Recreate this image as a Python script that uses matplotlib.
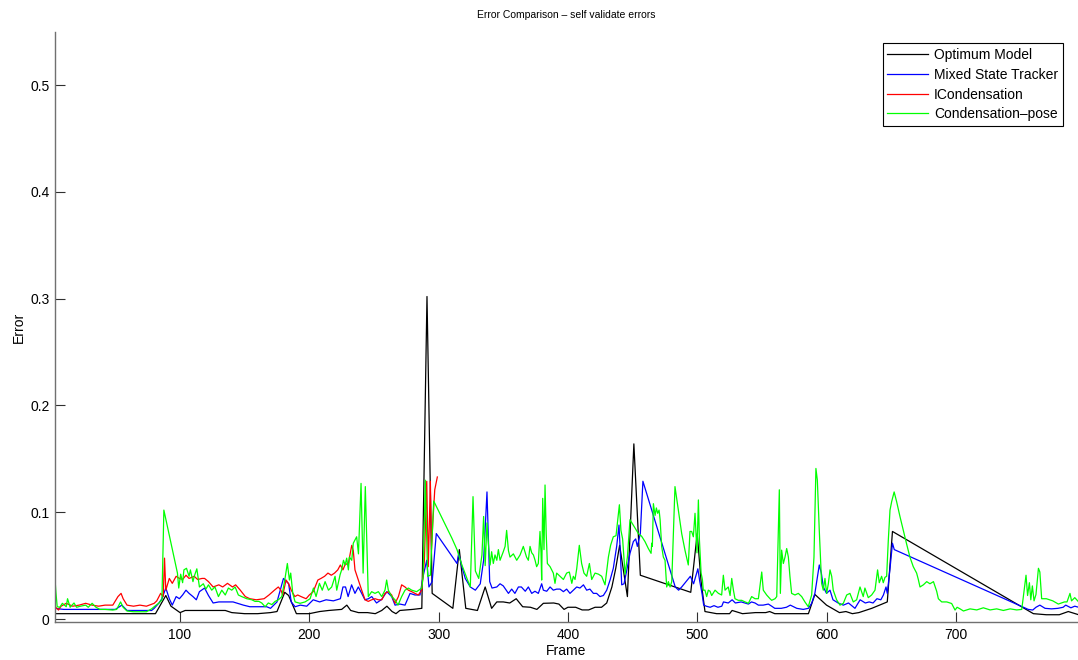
import matplotlib
matplotlib.use("Agg")
import matplotlib.pyplot as plt

plt.rcParams['font.family'] = ['Liberation Sans', 'DejaVu Sans']

title = "Error Comparison – self validate errors"
xlabel = "Frame"
ylabel = "Error"
series_names = ["Optimum Model", "Mixed State Tracker", "ICondensation", "Condensation–pose"]
xticks = [100, 200, 300, 400, 500, 600, 700]
yticks = [0, 0.1, 0.2, 0.3, 0.4, 0.5]

black_frames = [3, 20, 40, 60, 81, 89, 93, 100, 104, 115, 125, 135, 140, 150, 160, 170, 175, 181, 184, 190,
                200, 208, 215, 225, 229, 232, 238, 245, 251, 256, 260, 264, 267, 270, 280, 287, 291, 295, 311,
                316, 321, 330, 336, 341, 345, 350, 355, 360, 365, 371, 376, 381, 389, 393, 397, 400, 406, 411,
                416, 421, 426, 430, 434, 437, 440, 446, 451, 456, 495, 500, 503, 506, 515, 525, 527, 535, 545,
                553, 556, 560, 575, 586, 591, 600, 610, 615, 620, 625, 635, 647, 651, 760, 770, 780, 787, 795]
black_vals = [0.005, 0.005, 0.005, 0.005, 0.005, 0.022, 0.012, 0.006, 0.008, 0.008, 0.008, 0.008, 0.006, 0.005,
              0.005, 0.006, 0.007, 0.025, 0.022, 0.005, 0.005, 0.007, 0.008, 0.009, 0.013, 0.008, 0.006, 0.006,
              0.005, 0.008, 0.012, 0.007, 0.005, 0.008, 0.009, 0.010, 0.302, 0.024, 0.010, 0.065, 0.010, 0.008,
              0.030, 0.010, 0.016, 0.016, 0.015, 0.019, 0.0115, 0.011, 0.009, 0.0147, 0.015, 0.014, 0.009,
              0.011, 0.011, 0.0085, 0.0085, 0.011, 0.011, 0.015, 0.030, 0.0475, 0.069, 0.021, 0.164, 0.041,
              0.025, 0.080, 0.035, 0.007, 0.005, 0.005, 0.008, 0.005, 0.006, 0.006, 0.007, 0.005, 0.005, 0.005,
              0.023, 0.013, 0.006, 0.007, 0.005, 0.006, 0.010, 0.016, 0.082, 0.005, 0.004, 0.004, 0.007, 0.004]

blue_frames = [3, 10, 20, 30, 40, 50, 55, 59, 65, 72, 78, 80, 83.5, 86, 89, 91.7, 94, 97, 99.5, 102, 104.6, 107,
               110, 112.6, 115, 119, 122, 125.6, 130, 135, 141, 149, 154, 160, 167, 170, 175, 180, 184, 186, 189,
               193, 198, 203, 208, 213, 218.6, 224, 226, 228, 230, 232.7, 235.3, 237.9, 240.5, 243, 245.7, 248.3,
               252, 256, 259.9, 263.7, 266.3, 270, 274, 277.9, 281.7, 285.6, 288, 290.8, 292.5, 295, 298.2, 314.2,
               315.5, 318, 320.6, 324.5, 328.4, 332.2, 334.8, 337.4, 339.5, 341.3, 345, 347.5, 350, 354, 356.5,
               359, 361.7, 364, 367, 369.4, 372, 374.5, 377.1, 379.7, 381, 383.6, 386.2, 388.7, 391.3, 393.9,
               396.5, 399, 401.6, 404.2, 406.8, 409.3, 412, 414.5, 417, 419.7, 422.2, 424.8, 427.4, 430, 432.6,
               435.1, 437.7, 439.5, 440.8, 441.6, 443.4, 445.4, 448, 450.6, 452.4, 453.7, 456, 458, 483, 485.6,
               488, 494.7, 497.2, 500.5, 502, 503.7, 505, 507, 510, 513, 516, 519, 520.3, 524, 527, 529.5, 534,
               539.6, 542, 544.7, 547.3, 551, 555, 557.6, 560, 565, 569, 572, 577, 582, 586, 588.5, 591, 594.4,
               596, 597.5, 600, 602.7, 605, 609, 613, 617, 622, 626, 630, 633, 636, 639, 642, 644, 646, 647, 649,
               651, 652.4, 756, 759.5, 762, 765, 769, 774, 779, 783, 785, 789, 792, 795]
blue_vals = [0.010, 0.009, 0.009, 0.009, 0.009, 0.009, 0.013, 0.008, 0.008, 0.008, 0.008, 0.010, 0.0147, 0.019,
             0.029, 0.019, 0.013, 0.021, 0.019, 0.0225, 0.027, 0.024, 0.021, 0.018, 0.0256, 0.029, 0.022, 0.015,
             0.016, 0.016, 0.016, 0.013, 0.0115, 0.0115, 0.0115, 0.010, 0.016, 0.038, 0.033, 0.016, 0.0115, 0.013,
             0.012, 0.018, 0.016, 0.018, 0.017, 0.019, 0.030, 0.030, 0.021, 0.032, 0.024, 0.030, 0.024, 0.018,
             0.019, 0.021, 0.015, 0.0184, 0.0256, 0.021, 0.013, 0.014, 0.013, 0.024, 0.0225, 0.0225, 0.040,
             0.055, 0.030, 0.035, 0.080, 0.052, 0.0615, 0.049, 0.038, 0.030, 0.027, 0.033, 0.055, 0.119, 0.035,
             0.029, 0.030, 0.033, 0.031, 0.024, 0.028, 0.024, 0.030, 0.030, 0.026, 0.030, 0.024, 0.026, 0.024,
             0.033, 0.027, 0.026, 0.030, 0.027, 0.028, 0.028, 0.0256, 0.028, 0.024, 0.027, 0.030, 0.029, 0.032,
             0.027, 0.028, 0.024, 0.024, 0.021, 0.022, 0.027, 0.0365, 0.0475, 0.068, 0.088, 0.055, 0.032, 0.033,
             0.045, 0.0615, 0.0725, 0.075, 0.068, 0.080, 0.129, 0.030, 0.027, 0.030, 0.040, 0.033, 0.047, 0.035,
             0.024, 0.013, 0.012, 0.011, 0.0125, 0.011, 0.012, 0.016, 0.015, 0.018, 0.015, 0.016, 0.014, 0.016,
             0.015, 0.013, 0.013, 0.014, 0.012, 0.010, 0.010, 0.011, 0.013, 0.010, 0.009, 0.010, 0.0147, 0.024,
             0.0506, 0.043, 0.030, 0.024, 0.027, 0.018, 0.015, 0.013, 0.015, 0.010, 0.018, 0.015, 0.016, 0.015,
             0.019, 0.018, 0.0225, 0.030, 0.024, 0.046, 0.071, 0.065, 0.009, 0.0084, 0.011, 0.013, 0.010, 0.0095,
             0.010, 0.011, 0.013, 0.0105, 0.012, 0.011]

red_frames = [3, 6, 8, 12, 17, 22, 27, 32, 37, 42, 48, 52, 54.4, 56, 59, 64, 69, 74, 80, 82, 85, 87, 88, 89,
              91.7, 94, 97, 99.5, 102, 104.6, 107, 111, 113.6, 117, 119, 122, 125.6, 130, 133, 136.7, 140.6, 143,
              146.6, 150.5, 154, 159, 165, 168.8, 173, 176, 178, 179.5, 182, 184, 186, 188.8, 191, 193.6, 197.5,
              200, 203, 206.6, 209, 211.8, 214.4, 217, 219.5, 222, 224, 226, 228, 230, 232.8, 234, 235.3, 237.9,
              240.5, 243.1, 245.6, 248.2, 250.8, 253.4, 256, 258.5, 261.1, 263.7, 266.3, 268.9, 271.4, 274, 276.6,
              279.2, 281.7, 284.3, 286.9, 289, 290.8, 292, 293.6, 294.5, 295.5, 297, 299]
red_vals = [0.012, 0.0084, 0.012, 0.0147, 0.012, 0.013, 0.0147, 0.013, 0.012, 0.013, 0.013, 0.021, 0.024, 0.019,
            0.013, 0.012, 0.013, 0.012, 0.0147, 0.017, 0.024, 0.021, 0.057, 0.027, 0.038, 0.0334, 0.040, 0.038,
            0.037, 0.041, 0.038, 0.040, 0.037, 0.038, 0.038, 0.035, 0.030, 0.032, 0.030, 0.0334, 0.030, 0.032,
            0.027, 0.021, 0.019, 0.018, 0.019, 0.0225, 0.027, 0.030, 0.027, 0.0225, 0.0365, 0.033, 0.027, 0.021,
            0.0225, 0.021, 0.019, 0.0225, 0.0256, 0.0365, 0.038, 0.040, 0.043, 0.041, 0.043, 0.046, 0.0506, 0.046,
            0.052, 0.0506, 0.069, 0.064, 0.046, 0.0365, 0.027, 0.018, 0.0165, 0.018, 0.019, 0.018, 0.018, 0.024,
            0.0256, 0.0225, 0.0147, 0.021, 0.032, 0.030, 0.027, 0.0256, 0.024, 0.0225, 0.027, 0.055, 0.129, 0.049,
            0.129, 0.065, 0.090, 0.121, 0.133]

green_frames = [3, 4, 5, 7, 9, 12, 13, 15, 18, 20, 23, 27, 29, 32, 35, 38, 42, 48, 51, 54, 56, 59, 64, 69, 74, 78,
                81, 83.5, 86, 87.5, 98, 99, 100.5, 102, 103, 105, 107, 108, 110, 111, 113, 115, 118, 120, 122,
                124.5, 127, 129.7, 132.3, 135, 137.4, 140, 142.6, 145.1, 147.7, 151.6, 155.5, 158, 161, 163.2,
                165.8, 168.3, 171, 173.5, 176.1, 178.7, 181.2, 183, 184.6, 185.6, 187.2, 189, 192.8, 196.7, 200.6,
                203.2, 205.2, 207.8, 210, 212.2, 214.8, 217.3, 219.9, 221.2, 223.8, 225, 226.4, 227.7, 228.9, 230.2,
                231, 232.8, 234, 236.6, 238, 240, 241.6, 243.3, 245.6, 248.2, 250.8, 253.4, 256, 258.5, 259.8,
                261.1, 263.7, 266.3, 268.6, 271.4, 274, 276.6, 279.2, 283, 287, 288, 289.7, 291.5, 293.6, 296.2,
                310.3, 314.2, 318, 321.9, 324.5, 326.6, 328.4, 331, 333.5, 334.8, 336, 337.4, 338.5, 339.8, 341,
                342.3, 343.6, 345, 346.2, 347.5, 350, 351.4, 352.6, 354, 355.2, 357.8, 360.4, 363, 365.5, 368,
                369.4, 370.7, 372, 373.3, 374.6, 375.8, 377.1, 378.4, 379.2, 379.7, 380.5, 381.5, 382.3, 383.2,
                384.1, 386.2, 388.7, 390, 391.3, 393.9, 396.5, 399, 401.1, 403, 404.2, 405.5, 406.8, 408.8, 410.6,
                412.4, 414.5, 416.6, 418.4, 421, 423.6, 426.1, 428.7, 431.3, 433, 435.1, 437.2, 439.8, 441, 442.3,
                444.2, 446, 448, 452, 454.5, 457, 459.6, 462.2, 464.3, 464.8, 465.3, 466.1, 467.4, 468.4, 469.4,
                470.5, 471.3, 472.5, 473.8, 475.1, 476.4, 477.7, 479, 480.3, 482.8, 485.4, 488, 490.6, 493.1,
                494.4, 495.7, 497, 498.3, 499.1, 499.8, 500.9, 501.7, 503, 504, 504.7, 506, 507.3, 508.6, 509.9,
                511.2, 513.8, 516.4, 518.9, 520.2, 521.5, 524, 525.4, 526.7, 528, 529.2, 531.8, 534.4, 537, 539.6,
                542.1, 544.7, 547.3, 549.9, 551.1, 553.7, 556.3, 557.6, 560.2, 561.5, 563.5, 564.3, 565.3, 566.6,
                567.9, 569.2, 570.5, 571.7, 573, 575.6, 578.2, 580.8, 583.3, 585.9, 588.5, 590.3, 591.8, 592.9,
                594.4, 596.2, 597.5, 598.8, 600.1, 601.4, 602.7, 604, 605.2, 607.8, 610.4, 613, 615.6, 618.1,
                620.7, 623.3, 625.9, 628.4, 629.7, 632.3, 634.9, 637.5, 639.5, 640.8, 642.6, 643.9, 645.2, 646.5,
                647.8, 649.1, 650.4, 652.3, 654.2, 656.8, 659.4, 662, 664.5, 667.1, 669.7, 671, 672.3, 674.9,
                677.5, 680, 682.7, 685.2, 686.5, 689.1, 693, 696.8, 699.4, 701, 703.3, 705.9, 711, 716.2, 721.3,
                726.5, 731.6, 736.8, 742, 747.1, 751, 754.3, 755.5, 756.9, 758, 759.2, 760.5, 762, 763.9, 765,
                766.4, 770, 775, 779.3, 784, 786, 788.3, 789.5, 792, 795]
green_vals = [0.043, 0.025, 0.0115, 0.011, 0.0147, 0.0115, 0.019, 0.011, 0.015, 0.011, 0.012, 0.013, 0.011,
              0.0147, 0.011, 0.009, 0.009, 0.0084, 0.009, 0.016, 0.011, 0.0075, 0.0068, 0.0068, 0.0068, 0.0095,
              0.0125, 0.0147, 0.018, 0.102, 0.043, 0.029, 0.042, 0.034, 0.046, 0.0475, 0.040, 0.046, 0.035, 0.040,
              0.047, 0.030, 0.033, 0.028, 0.032, 0.027, 0.030, 0.021, 0.027, 0.0225, 0.029, 0.027, 0.030, 0.0225,
              0.021, 0.019, 0.018, 0.0165, 0.0165, 0.015, 0.0115, 0.015, 0.0135, 0.0165, 0.018, 0.021, 0.038,
              0.052, 0.0365, 0.043, 0.024, 0.016, 0.0147, 0.016, 0.019, 0.029, 0.021, 0.0334, 0.027, 0.035, 0.027,
              0.030, 0.040, 0.027, 0.0415, 0.046, 0.055, 0.0506, 0.057, 0.046, 0.058, 0.055, 0.071, 0.077, 0.061,
              0.127, 0.043, 0.124, 0.021, 0.0256, 0.024, 0.0256, 0.021, 0.027, 0.0365, 0.027, 0.021, 0.018, 0.013,
              0.021, 0.027, 0.029, 0.027, 0.0256, 0.029, 0.040, 0.130, 0.040, 0.041, 0.1105, 0.0756, 0.065,
              0.0506, 0.038, 0.030, 0.1146, 0.045, 0.038, 0.060, 0.096, 0.050, 0.090, 0.070, 0.0506, 0.063, 0.052,
              0.060, 0.055, 0.065, 0.055, 0.063, 0.068, 0.083, 0.064, 0.058, 0.061, 0.055, 0.060, 0.068, 0.058,
              0.055, 0.068, 0.062, 0.060, 0.055, 0.049, 0.052, 0.082, 0.062, 0.0365, 0.113, 0.065, 0.1255, 0.080,
              0.052, 0.049, 0.043, 0.0334, 0.043, 0.040, 0.037, 0.043, 0.044, 0.0334, 0.040, 0.037, 0.047, 0.069,
              0.052, 0.043, 0.040, 0.052, 0.037, 0.043, 0.042, 0.040, 0.032, 0.058, 0.069, 0.077, 0.078, 0.107,
              0.083, 0.075, 0.042, 0.058, 0.093, 0.085, 0.080, 0.0775, 0.0725, 0.066, 0.0615, 0.071, 0.068, 0.108,
              0.097, 0.104, 0.099, 0.102, 0.093, 0.068, 0.058, 0.055, 0.030, 0.035, 0.030, 0.035, 0.124, 0.102,
              0.080, 0.064, 0.0506, 0.082, 0.082, 0.077, 0.099, 0.080, 0.062, 0.1115, 0.074, 0.043, 0.037, 0.027,
              0.027, 0.021, 0.027, 0.026, 0.022, 0.027, 0.024, 0.0225, 0.041, 0.027, 0.030, 0.022, 0.038, 0.027,
              0.019, 0.0175, 0.0175, 0.016, 0.0147, 0.021, 0.019, 0.019, 0.044, 0.027, 0.0225, 0.019, 0.0175,
              0.019, 0.021, 0.121, 0.024, 0.0645, 0.052, 0.058, 0.066, 0.058, 0.040, 0.024, 0.0225, 0.024, 0.021,
              0.016, 0.0115, 0.0225, 0.058, 0.141, 0.130, 0.083, 0.0334, 0.027, 0.038, 0.024, 0.033, 0.046, 0.040,
              0.027, 0.018, 0.013, 0.0147, 0.0225, 0.024, 0.016, 0.018, 0.030, 0.021, 0.029, 0.020, 0.0225, 0.027,
              0.046, 0.034, 0.040, 0.034, 0.039, 0.040, 0.074, 0.102, 0.110, 0.119, 0.110, 0.096, 0.083, 0.070,
              0.058, 0.049, 0.043, 0.037, 0.030, 0.032, 0.035, 0.033, 0.035, 0.026, 0.019, 0.016, 0.016, 0.0145,
              0.0084, 0.011, 0.0095, 0.0075, 0.0095, 0.0085, 0.0105, 0.0085, 0.0095, 0.008, 0.0095, 0.0085, 0.009,
              0.041, 0.022, 0.034, 0.018, 0.031, 0.017, 0.023, 0.0475, 0.044, 0.019, 0.019, 0.017, 0.014, 0.016,
              0.016, 0.024, 0.017, 0.020, 0.016]

fig = plt.figure(figsize=(10.78, 6.6), dpi=100)
ax = fig.add_axes([55 / 1078, 38 / 660, 1023 / 1078, 590 / 660])

lw = 0.9
ax.plot(black_frames, black_vals, color='black', lw=lw, label=series_names[0])
ax.plot(blue_frames, blue_vals, color='#0000FF', lw=lw, label=series_names[1])
ax.plot(red_frames, red_vals, color='#FF0000', lw=lw, label=series_names[2])
ax.plot(green_frames, green_vals, color='#00FF00', lw=lw, label=series_names[3])

ax.set_xlim(3.3, 794.5)
ax.set_ylim(-0.0028, 0.5497)
ax.set_xticks(xticks)
ax.set_xticklabels([str(t) for t in xticks])
ax.set_yticks(yticks)
ax.set_yticklabels(['0', '0.1', '0.2', '0.3', '0.4', '0.5'])

for s in ['top', 'right']:
    ax.spines[s].set_visible(False)
for s in ['left', 'bottom']:
    ax.spines[s].set_color('#707070')
    ax.spines[s].set_linewidth(1.0)
ax.tick_params(direction='in', length=7, width=0.8, color='#303030', labelsize=10, pad=4)

ax.set_title(title, fontsize=7.5, pad=10)
ax.set_xlabel(xlabel, fontsize=10, labelpad=2)
ax.set_ylabel(ylabel, fontsize=10, labelpad=3)

leg = ax.legend(loc='upper right', bbox_to_anchor=(1 - 15 / 1023, 1 - 11 / 590), borderaxespad=0,
                fontsize=10, fancybox=False, framealpha=1, edgecolor='black', handlelength=2.9,
                handletextpad=0.45, labelspacing=0.42, borderpad=0.35)
leg.get_frame().set_linewidth(0.8)

fig.savefig('out.png', dpi=100)
